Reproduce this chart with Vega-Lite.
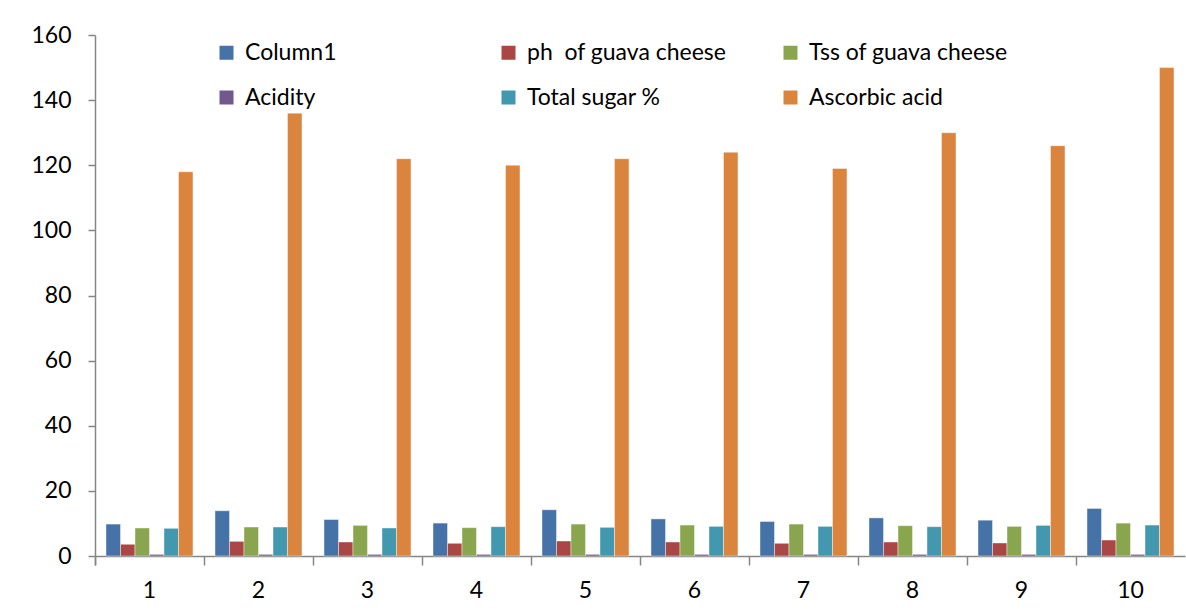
{
  "$schema": "https://vega.github.io/schema/vega-lite/v6.json",
  "width": 1090,
  "height": 521,
  "autosize": {"type": "none"},
  "padding": {"left": 95, "top": 35, "right": 1, "bottom": 54},
  "background": "white",
  "config": {"view": {"stroke": null}, "font": "Lato"},
  "data": {"values": [
    {"sample": 1, "series": "Column1", "value": 9.8},
    {"sample": 2, "series": "Column1", "value": 13.9},
    {"sample": 3, "series": "Column1", "value": 11.2},
    {"sample": 4, "series": "Column1", "value": 10.1},
    {"sample": 5, "series": "Column1", "value": 14.2},
    {"sample": 6, "series": "Column1", "value": 11.4},
    {"sample": 7, "series": "Column1", "value": 10.6},
    {"sample": 8, "series": "Column1", "value": 11.7},
    {"sample": 9, "series": "Column1", "value": 11.0},
    {"sample": 10, "series": "Column1", "value": 14.6},
    {"sample": 1, "series": " ph  of guava cheese", "value": 3.6},
    {"sample": 2, "series": " ph  of guava cheese", "value": 4.5},
    {"sample": 3, "series": " ph  of guava cheese", "value": 4.3},
    {"sample": 4, "series": " ph  of guava cheese", "value": 3.9},
    {"sample": 5, "series": " ph  of guava cheese", "value": 4.6},
    {"sample": 6, "series": " ph  of guava cheese", "value": 4.3},
    {"sample": 7, "series": " ph  of guava cheese", "value": 3.9},
    {"sample": 8, "series": " ph  of guava cheese", "value": 4.3},
    {"sample": 9, "series": " ph  of guava cheese", "value": 4.0},
    {"sample": 10, "series": " ph  of guava cheese", "value": 4.9},
    {"sample": 1, "series": "Tss of guava cheese", "value": 8.6},
    {"sample": 2, "series": "Tss of guava cheese", "value": 8.9},
    {"sample": 3, "series": "Tss of guava cheese", "value": 9.4},
    {"sample": 4, "series": "Tss of guava cheese", "value": 8.7},
    {"sample": 5, "series": "Tss of guava cheese", "value": 9.8},
    {"sample": 6, "series": "Tss of guava cheese", "value": 9.5},
    {"sample": 7, "series": "Tss of guava cheese", "value": 9.8},
    {"sample": 8, "series": "Tss of guava cheese", "value": 9.3},
    {"sample": 9, "series": "Tss of guava cheese", "value": 9.1},
    {"sample": 10, "series": "Tss of guava cheese", "value": 10.1},
    {"sample": 1, "series": "Acidity", "value": 0.5},
    {"sample": 2, "series": "Acidity", "value": 0.5},
    {"sample": 3, "series": "Acidity", "value": 0.5},
    {"sample": 4, "series": "Acidity", "value": 0.5},
    {"sample": 5, "series": "Acidity", "value": 0.5},
    {"sample": 6, "series": "Acidity", "value": 0.5},
    {"sample": 7, "series": "Acidity", "value": 0.5},
    {"sample": 8, "series": "Acidity", "value": 0.5},
    {"sample": 9, "series": "Acidity", "value": 0.5},
    {"sample": 10, "series": "Acidity", "value": 0.5},
    {"sample": 1, "series": "Total sugar %", "value": 8.5},
    {"sample": 2, "series": "Total sugar %", "value": 8.9},
    {"sample": 3, "series": "Total sugar %", "value": 8.6},
    {"sample": 4, "series": "Total sugar %", "value": 9.0},
    {"sample": 5, "series": "Total sugar %", "value": 8.8},
    {"sample": 6, "series": "Total sugar %", "value": 9.1},
    {"sample": 7, "series": "Total sugar %", "value": 9.1},
    {"sample": 8, "series": "Total sugar %", "value": 9.0},
    {"sample": 9, "series": "Total sugar %", "value": 9.4},
    {"sample": 10, "series": "Total sugar %", "value": 9.5},
    {"sample": 1, "series": "Ascorbic acid", "value": 118},
    {"sample": 2, "series": "Ascorbic acid", "value": 136},
    {"sample": 3, "series": "Ascorbic acid", "value": 122},
    {"sample": 4, "series": "Ascorbic acid", "value": 120},
    {"sample": 5, "series": "Ascorbic acid", "value": 122},
    {"sample": 6, "series": "Ascorbic acid", "value": 124},
    {"sample": 7, "series": "Ascorbic acid", "value": 119},
    {"sample": 8, "series": "Ascorbic acid", "value": 130},
    {"sample": 9, "series": "Ascorbic acid", "value": 126},
    {"sample": 10, "series": "Ascorbic acid", "value": 150}
  ]},
  "mark": {"type": "bar", "stroke": "white", "strokeWidth": 0.6, "strokeOpacity": 0.7},
  "encoding": {
    "x": {
      "field": "sample", "type": "ordinal",
      "scale": {"paddingInner": 0, "paddingOuter": 0},
      "axis": {
        "title": null, "labelAngle": 0, "bandPosition": 0,
        "tickExtra": true,
        "domainColor": "#868686", "domainWidth": 1.5, "tickColor": "#868686", "tickWidth": 1.5,
        "tickSize": 9, "labelPadding": 14, "labelFontSize": 23, "labelFont": "Lato",
        "labelColor": "#000000", "grid": false
      }
    },
    "xOffset": {
      "field": "series", "type": "nominal",
      "sort": ["Column1", " ph  of guava cheese", "Tss of guava cheese", "Acidity", "Total sugar %", "Ascorbic acid"],
      "scale": {"paddingInner": 0, "paddingOuter": 0.76}
    },
    "y": {
      "field": "value", "type": "quantitative",
      "scale": {"domain": [0, 160], "nice": false},
      "axis": {
        "title": null, "values": [0, 20, 40, 60, 80, 100, 120, 140, 160], "grid": false,
        "domainColor": "#868686", "domainWidth": 1.5, "tickColor": "#868686", "tickWidth": 1.5,
        "tickSize": 7, "labelPadding": 17, "labelFontSize": 23, "labelFont": "Lato",
        "labelColor": "#000000"
      }
    },
    "color": {
      "field": "series", "type": "nominal",
      "scale": {
        "domain": ["Column1", " ph  of guava cheese", "Tss of guava cheese", "Acidity", "Total sugar %", "Ascorbic acid"],
        "range": ["#4572A7", "#AA4643", "#89A54E", "#71588F", "#4198AF", "#DB843D"]
      },
      "legend": {
        "title": null, "orient": "none", "legendX": 120, "legendY": 6,
        "values": ["Column1", "Acidity", " ph  of guava cheese", "Total sugar %", "Tss of guava cheese", "Ascorbic acid"],
        "labelExpr": "replace(datum.label, / /g, '\u00a0')",
        "columns": 3, "gridAlign": "all", "columnPadding": 53, "rowPadding": 21,
        "padding": 0, "symbolType": "square", "symbolSize": 196, "symbolStrokeWidth": 0,
        "labelOffset": 7, "labelFontSize": 23, "labelFont": "Lato", "labelColor": "#000000",
        "labelLimit": 400
      }
    }
  }
}
